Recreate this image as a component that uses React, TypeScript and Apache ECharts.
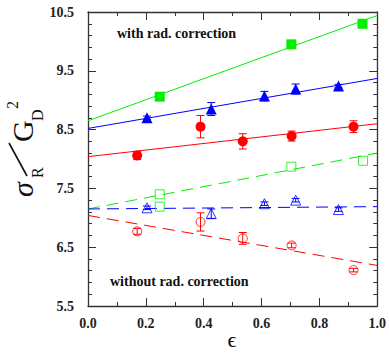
import React, { useEffect, useRef } from "react";
import * as echarts from "echarts";

// ---- data ----
const fitEps = [0, 1];

// with radiative correction
const epsGreen = [0.248, 0.703, 0.949];
const withGreen = [9.06, 9.95, 10.3];
const fitWithGreen = [8.65, 10.44];

const epsBlue = [0.204, 0.426, 0.61, 0.718, 0.866];
const withBlue = [8.7, 8.85, 9.07, 9.19, 9.24];
const withBlueErr = [0.03, 0.11, 0.08, 0.085, 0.03];
const fitWithBlue = [8.52, 9.37];

const epsRed = [0.17, 0.389, 0.535, 0.704, 0.918];
const withRed = [8.06, 8.55, 8.3, 8.39, 8.55];
const withRedErr = [0.07, 0.19, 0.13, 0.085, 0.1];
const fitWithRed = [8.04, 8.6];

// without radiative correction
const epsGreenNo = [0.248, 0.248, 0.703, 0.951];
const noGreen = [7.4, 7.19, 7.87, 7.97];
const fitNoGreen = [7.15, 8.1];

const noBlue = [7.17, 7.07, 7.24, 7.3, 7.14];
const noBlueErr = [0.03, 0.08, 0.03, 0.03, 0.03];
const fitNoBlue = [7.15, 7.19];

const noRed = [6.77, 6.93, 6.65, 6.53, 6.11];
const noRedErr = [0.05, 0.155, 0.1, 0.04, 0.03];
const fitNoRed = [7.04, 6.19];

const xMin = 0, xMax = 1, xStep = 0.2;
const yMin = 5.5, yMax = 10.5, yStep = 1;

const GREEN = "#00f000";
const BLUE = "#0000ff";
const RED = "#ff0000";
const AXIS = "#333333";
const SERIF = '"Liberation Serif", "Times New Roman", serif';

const pairs = (xs: number[], ys: number[]) => xs.map((x, i) => [x, ys[i]]);
const triples = (xs: number[], ys: number[], es: number[]) => xs.map((x, i) => [x, ys[i], es[i]]);

function errSeries(data: number[][], color: string) {
  return {
    type: "custom",
    silent: true,
    z: 3,
    renderItem: (_p: any, api: any) => {
      const x = api.value(0), y = api.value(1), e = api.value(2);
      const top = api.coord([x, y + e]);
      const bot = api.coord([x, y - e]);
      const hw = 4;
      const st = { stroke: color, lineWidth: 1 };
      return {
        type: "group",
        children: [
          { type: "line", shape: { x1: top[0], y1: top[1], x2: bot[0], y2: bot[1] }, style: st },
          { type: "line", shape: { x1: top[0] - hw, y1: top[1], x2: top[0] + hw, y2: top[1] }, style: st },
          { type: "line", shape: { x1: bot[0] - hw, y1: bot[1], x2: bot[0] + hw, y2: bot[1] }, style: st },
        ],
      };
    },
    data,
  };
}

function fitSeries(ys: number[], color: string, dashed: boolean) {
  return {
    type: "line",
    data: pairs(fitEps, ys),
    showSymbol: false,
    symbol: "none",
    silent: true,
    z: 2,
    lineStyle: { color, width: 1, type: dashed ? [12, 7] : "solid" },
  };
}

function scatter(data: number[][], color: string, symbol: string, size: number, open: boolean) {
  return {
    type: "scatter",
    data,
    symbol,
    symbolSize: size,
    z: 4,
    itemStyle: open
      ? { color: "rgba(255,255,255,0)", borderColor: color, borderWidth: 1 }
      : { color, opacity: 1 },
  };
}

const axisCommon = {
  type: "value",
  axisLine: { show: true, onZero: false, lineStyle: { color: AXIS, width: 1.3 } },
  axisTick: { show: true, inside: true, length: 8, lineStyle: { color: AXIS, width: 1 } },
  minorTick: { show: true, length: 4, lineStyle: { color: AXIS, width: 1 } },
  splitLine: { show: false },
};

const labelStyle = {
  fontFamily: SERIF,
  fontWeight: "bold",
  fontSize: 14,
  color: "#222",
};

export default function App() {
  const ref = useRef<HTMLDivElement>(null);
  useEffect(() => {
    document.body.style.margin = "0";
    const chart = echarts.init(ref.current!, null, { renderer: "svg" });
    const option: any = {
      animation: false,
      backgroundColor: "#fff",
      grid: { left: 88, top: 12, width: 292, height: 294 },
      xAxis: [
        {
          ...axisCommon,
          position: "bottom",
          min: xMin,
          max: xMax,
          interval: xStep,
          minorTick: { ...axisCommon.minorTick, splitNumber: 2 },
          axisLabel: { ...labelStyle, margin: 10, formatter: (v: number) => v.toFixed(1) },
        },
        {
          ...axisCommon,
          position: "top",
          min: xMin,
          max: xMax,
          interval: xStep,
          minorTick: { ...axisCommon.minorTick, splitNumber: 2 },
          axisLabel: { show: false },
        },
      ],
      yAxis: [
        {
          ...axisCommon,
          position: "left",
          min: yMin,
          max: yMax,
          interval: yStep,
          minorTick: { ...axisCommon.minorTick, splitNumber: 5 },
          axisLabel: { ...labelStyle, margin: 14, formatter: (v: number) => v.toFixed(1) },
        },
        {
          ...axisCommon,
          position: "right",
          min: yMin,
          max: yMax,
          interval: yStep,
          minorTick: { ...axisCommon.minorTick, splitNumber: 5 },
          axisLabel: { show: false },
        },
      ],
      series: [
        fitSeries(fitWithGreen, GREEN, false),
        fitSeries(fitWithBlue, BLUE, false),
        fitSeries(fitWithRed, RED, false),
        fitSeries(fitNoGreen, GREEN, true),
        fitSeries(fitNoBlue, BLUE, true),
        fitSeries(fitNoRed, RED, true),
        errSeries(triples(epsBlue, withBlue, withBlueErr), BLUE),
        errSeries(triples(epsRed, withRed, withRedErr), RED),
        errSeries(triples(epsBlue, noBlue, noBlueErr), BLUE),
        errSeries(triples(epsRed, noRed, noRedErr), RED),
        scatter(pairs(epsGreen, withGreen), GREEN, "rect", 10, false),
        scatter(pairs(epsBlue, withBlue), BLUE, "triangle", 11, false),
        scatter(pairs(epsRed, withRed), RED, "circle", 10, false),
        scatter(pairs(epsGreenNo, noGreen), GREEN, "rect", 9, true),
        scatter(pairs(epsBlue, noBlue), BLUE, "triangle", 10, true),
        scatter(pairs(epsRed, noRed), RED, "circle", 9, true),
      ],
      graphic: [
        {
          type: "text",
          left: 117,
          top: 26,
          style: { text: "with rad. correction", font: `bold 14px ${SERIF}`, fill: "#111" },
        },
        {
          type: "text",
          left: 110,
          top: 274,
          style: { text: "without rad. correction", font: `bold 14px ${SERIF}`, fill: "#111" },
        },
        {
          type: "text",
          x: 232,
          y: 339,
          style: { text: "ϵ", font: `22px ${SERIF}`, fill: "#111", align: "center", verticalAlign: "middle" },
        },
        {
          type: "group",
          x: 22,
          y: 197,
          rotation: Math.PI / 2,
          children: [
            { type: "text", x: 0, y: 0, style: { text: "σ", font: `italic 30px ${SERIF}`, fill: "#111", align: "left", verticalAlign: "middle" } },
            { type: "text", x: 19, y: 15, style: { text: "R", font: `16px ${SERIF}`, fill: "#111", align: "left", verticalAlign: "middle" } },
            { type: "line", shape: { x1: 21, y1: 5, x2: 54, y2: -13 }, style: { stroke: "#111", lineWidth: 1.6 } },
            { type: "text", x: 55, y: 0, style: { text: "G", font: `30px ${SERIF}`, fill: "#111", align: "left", verticalAlign: "middle" } },
            { type: "text", x: 76, y: 15, style: { text: "D", font: `16px ${SERIF}`, fill: "#111", align: "left", verticalAlign: "middle" } },
            { type: "text", x: 88, y: -10, style: { text: "2", font: `16px ${SERIF}`, fill: "#111", align: "left", verticalAlign: "middle" } },
          ],
        },
      ],
    };
    chart.setOption(option);
    return () => chart.dispose();
  }, []);
  return <div ref={ref} style={{ width: 389, height: 353, position: "absolute", left: 0, top: 0 }} />;
}
